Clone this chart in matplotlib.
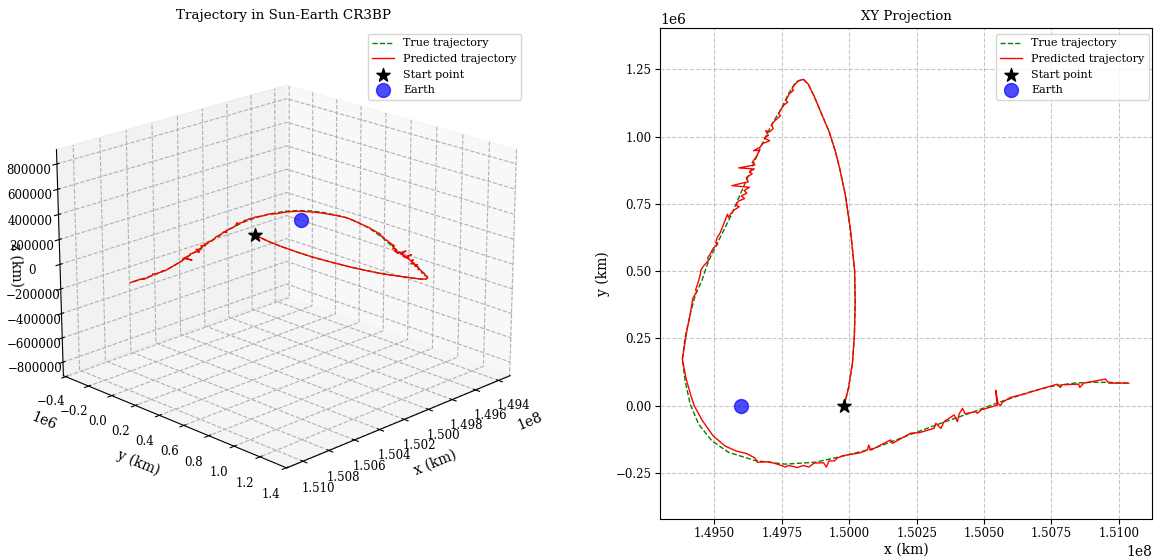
import numpy as np
import matplotlib
matplotlib.use('Agg')
import matplotlib.pyplot as plt

plt.rcParams['font.family'] = 'DejaVu Serif'
plt.rcParams['grid.linestyle'] = '--'
plt.rcParams['grid.alpha'] = 0.7

# True trajectory (x in 1e8 km, y in 1e6 km)
true_x = [1.49981, 1.49998, 1.50012, 1.50019, 1.50022, 1.50020, 1.50005, 1.49985,
          1.49965, 1.49948, 1.49925, 1.49898, 1.49870, 1.49848, 1.49830, 1.49812,
          1.49800, 1.49775, 1.49750, 1.49713, 1.49676, 1.49639, 1.49601, 1.49564,
          1.49527, 1.49478, 1.49453, 1.49430, 1.49410, 1.49391, 1.49381, 1.49391,
          1.49410, 1.49441, 1.49490, 1.49552, 1.49651, 1.49762, 1.49874, 1.49973,
          1.50093, 1.50216, 1.50340, 1.50463, 1.50562, 1.50672, 1.50750, 1.50833,
          1.50895, 1.50957, 1.51040]
true_y = [0.000, 0.070, 0.160, 0.260, 0.380, 0.501, 0.650, 0.786,
          0.880, 0.947, 1.020, 1.083, 1.150, 1.195, 1.213, 1.208,
          1.200, 1.160, 1.108, 1.046, 0.972, 0.885, 0.798, 0.712,
          0.637, 0.538, 0.464, 0.415, 0.340, 0.254, 0.173, 0.093,
          0.006, -0.068, -0.130, -0.173, -0.204, -0.217, -0.210, -0.188,
          -0.158, -0.111, -0.065, -0.022, 0.015, 0.052, 0.072, 0.084,
          0.087, 0.087, 0.084]

# Predicted trajectory (network output), same units
pred_x = [1.49981, 1.49998, 1.50012, 1.50019, 1.50022, 1.50020, 1.50005, 1.49985,
          1.49965, 1.49948, 1.49925, 1.49898, 1.49870, 1.49848, 1.49830, 1.49812,
          1.49800, 1.49788, 1.49793, 1.49778, 1.49765, 1.49772, 1.49758, 1.49748,
          1.49738, 1.49745, 1.49725, 1.49712, 1.49718, 1.49705, 1.49690, 1.49700,
          1.49685, 1.49705, 1.49680, 1.49670, 1.49645, 1.49668, 1.49655, 1.49640,
          1.49650, 1.49590, 1.49648, 1.49630, 1.49640, 1.49618, 1.49625, 1.49605,
          1.49565, 1.49630, 1.49610, 1.49620, 1.49600, 1.49612, 1.49588, 1.49580,
          1.49592, 1.49570, 1.49560, 1.49552, 1.49548, 1.49540, 1.49530, 1.49520,
          1.49510, 1.49505, 1.49512, 1.49495, 1.49485, 1.49475, 1.49478, 1.49460,
          1.49450, 1.49447, 1.49440, 1.49430, 1.49435, 1.49420, 1.49410, 1.49398,
          1.49390, 1.49381, 1.49395, 1.49412, 1.49425, 1.49455, 1.49495, 1.49540,
          1.49580, 1.49620, 1.49650, 1.49660, 1.49700, 1.49720, 1.49745, 1.49762,
          1.49775, 1.49790, 1.49808, 1.49818, 1.49830, 1.49850, 1.49870, 1.49905,
          1.49915, 1.49925, 1.49945, 1.49955, 1.49975, 1.50040, 1.50068, 1.50072,
          1.50080, 1.50130, 1.50154, 1.50160, 1.50228, 1.50260, 1.50315, 1.50321,
          1.50340, 1.50352, 1.50389, 1.50401, 1.50408, 1.50420, 1.50430, 1.50469,
          1.50475, 1.50490, 1.50549, 1.50543, 1.50552, 1.50561, 1.50567, 1.50598,
          1.50647, 1.50709, 1.50771, 1.50783, 1.50790, 1.50851, 1.50855, 1.50870,
          1.50950, 1.50963, 1.51037]
pred_y = [0.000, 0.070, 0.160, 0.260, 0.380, 0.501, 0.650, 0.786,
          0.880, 0.947, 1.020, 1.083, 1.150, 1.195, 1.213, 1.208,
          1.196, 1.180, 1.172, 1.160, 1.135, 1.128, 1.118, 1.103,
          1.085, 1.078, 1.060, 1.045, 1.030, 1.018, 1.022, 1.005,
          0.995, 0.985, 0.975, 0.962, 0.948, 0.950, 0.925, 0.905,
          0.895, 0.884, 0.880, 0.870, 0.862, 0.848, 0.832, 0.828,
          0.818, 0.812, 0.800, 0.790, 0.780, 0.770, 0.760, 0.745,
          0.740, 0.725, 0.712, 0.700, 0.712, 0.690, 0.665, 0.640,
          0.625, 0.605, 0.600, 0.585, 0.565, 0.550, 0.540, 0.520,
          0.505, 0.485, 0.460, 0.430, 0.425, 0.400, 0.340, 0.280,
          0.230, 0.173, 0.100, 0.040, 0.000, -0.055, -0.112, -0.150,
          -0.168, -0.178, -0.194, -0.210, -0.208, -0.213, -0.221, -0.228,
          -0.222, -0.225, -0.230, -0.226, -0.222, -0.228, -0.213, -0.212,
          -0.228, -0.205, -0.205, -0.195, -0.186, -0.175, -0.164, -0.146,
          -0.165, -0.139, -0.127, -0.140, -0.102, -0.100, -0.084, -0.065,
          -0.084, -0.059, -0.034, -0.059, -0.030, -0.010, -0.030, -0.022,
          -0.028, -0.015, 0.002, 0.058, 0.008, 0.000, 0.012, 0.031,
          0.043, 0.062, 0.080, 0.068, 0.078, 0.080, 0.068, 0.084,
          0.099, 0.084, 0.084]

earth_x = 1.49600  # 1e8 km

# Convert to km; trajectory is planar (z = 0)
tx = np.array(true_x) * 1e8
ty = np.array(true_y) * 1e6
tz = np.zeros_like(tx)
px = np.array(pred_x) * 1e8
py = np.array(pred_y) * 1e6
pz = np.zeros_like(px)

# Equal limits around the data (10% padding)
all_x = np.concatenate([tx, px])
all_y = np.concatenate([ty, py])
all_z = np.concatenate([tz, pz])
max_range = max(np.ptp(all_x), np.ptp(all_y), np.ptp(all_z)) / 2.0 * 1.1
mid_x = (all_x.max() + all_x.min()) / 2
mid_y = (all_y.max() + all_y.min()) / 2
mid_z = (all_z.max() + all_z.min()) / 2

W, H = 1159, 559
fig = plt.figure(figsize=(W / 100, H / 100), dpi=100)

# 3D trajectory
ax1 = fig.add_axes([0.0266, 0.038, 0.43, 0.954], projection='3d')
ax1.plot(tx, ty, tz, 'g--', linewidth=1, label='True trajectory')
ax1.plot(px, py, pz, 'r-', linewidth=1, label='Predicted trajectory')
ax1.scatter(tx[0], ty[0], tz[0], color='black', marker='*', s=100,
            depthshade=False, label='Start point')
ax1.scatter(earth_x * 1e8, 0, 0, color='blue', s=100, alpha=0.7,
            depthshade=False, label='Earth')
ax1.set_xlim(mid_x - max_range, mid_x + max_range)
ax1.set_ylim(mid_y - max_range, mid_y + max_range)
ax1.set_zlim(mid_z - max_range, mid_z + max_range)
ax1.set_xlabel('x (km)', fontsize=10)
ax1.set_ylabel('y (km)', fontsize=10)
ax1.set_zlabel('z (km)', fontsize=10, labelpad=-3)
ax1.tick_params(labelsize=8.5)
ax1.view_init(elev=20, azim=45)
ax1.legend(loc='upper right', fontsize=8, bbox_to_anchor=(521 / W, 1 - 34 / H),
           bbox_transform=fig.transFigure, borderaxespad=0)
# 3D axes titles sit too low, so place it on the figure
fig.text(283 / W, 1 - 16 / H, 'Trajectory in Sun-Earth CR3BP', fontsize=9.7,
         ha='center', va='center')

# XY projection
ax2 = fig.add_axes([660 / W, 1 - 519 / H, 492 / W, 491 / H])
ax2.plot(tx, ty, 'g--', linewidth=1, label='True trajectory')
ax2.plot(px, py, 'r-', linewidth=1, label='Predicted trajectory')
ax2.scatter(tx[0], ty[0], color='black', marker='*', s=100, label='Start point', zorder=3)
ax2.scatter(earth_x * 1e8, 0, color='blue', s=100, alpha=0.7, label='Earth', zorder=3)
ax2.set_xlim(mid_x - max_range, mid_x + max_range)
ax2.set_ylim(mid_y - max_range, mid_y + max_range)
ax2.set_xlabel('x (km)', fontsize=10, labelpad=2)
ax2.set_ylabel('y (km)', fontsize=10)
ax2.set_title('XY Projection', fontsize=9.5)
ax2.tick_params(labelsize=8.5, pad=2.5)
ax2.grid(True)
ax2.legend(loc='upper right', fontsize=8, bbox_to_anchor=(1149 / W, 1 - 34 / H),
           bbox_transform=fig.transFigure, borderaxespad=0)

plt.savefig('out.png', dpi=100)
